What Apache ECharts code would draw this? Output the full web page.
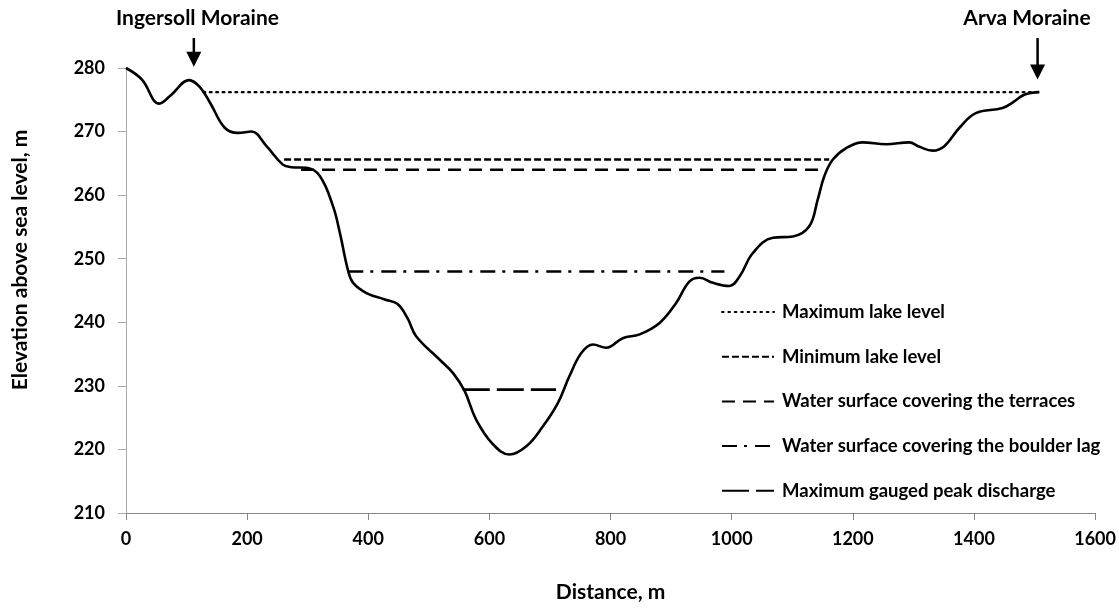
<!DOCTYPE html>
<html><head><meta charset="utf-8">
<script src="https://cdn.jsdelivr.net/npm/echarts@6/dist/echarts.min.js"></script>
<style>html,body{margin:0;padding:0;background:#fff}#c{width:1119px;height:608px}</style>
</head><body><div id="c"></div>
<script>
// Ground profile: distance (m) and elevation (m)
const profileX = [0,26,55,75,104,122,139,163,185,207,232,259,273,298,320,342,353,367,375,397,427,448,465,479,518,540,559,578,606,633,661,688,713,732,752,771,793,820,848,881,908,930,947,969,996,1013,1035,1068,1101,1128,1142,1153,1167,1189,1216,1255,1293,1310,1332,1351,1376,1403,1447,1466,1483,1508];
const profileY = [280,278.2,274.4,275.8,278.1,277,274.5,270.6,269.8,270.0,267.7,264.8,264.4,264.3,263.0,258.2,254.1,248.0,246.2,244.6,243.6,242.9,240.6,237.8,234.1,232.0,229.2,224.7,220.8,219.2,220.5,223.6,227.3,231.5,235.2,236.5,236.0,237.5,238.1,239.9,243.0,246.4,247.0,246.2,245.7,247.2,250.9,253.3,253.5,255.1,259.3,263.0,265.6,267.4,268.3,268.0,268.3,267.6,267.0,267.7,270.6,272.9,273.7,274.7,275.8,276.2];

// Water levels: name, start x, end x, elevation
const levelNames = ['Maximum lake level','Minimum lake level','Water surface covering the terraces','Water surface covering the boulder lag','Maximum gauged peak discharge'];
const levelStart = [128, 261, 289, 367, 556];
const levelEnd   = [1508, 1161, 1156, 988, 710];
const levelElev  = [276.2, 265.6, 264.0, 248.0, 229.4];
const levelDash  = [[1.6,4.8],[7,3],[13,8],[15,7,3,8],[27,7]];

// Annotations
const annoText = ['Ingersoll Moraine','Arva Moraine'];
const annoX = [112, 1505];
const annoTipY = [280.2, 278.2];

const xTicks = [0,200,400,600,800,1000,1200,1400,1600];
const yTicks = [210,220,230,240,250,260,270,280];
const xTitle = 'Distance, m';
const yTitle = 'Elevation above sea level, m';

const FONT = 'Lato';
const chart = echarts.init(document.getElementById('c'));

const series = [{
  type:'line', name:'profile', data: profileX.map((x,i)=>[x,profileY[i]]),
  smooth:0.4, symbol:'none', lineStyle:{color:'#000',width:2.6}, z:3, silent:true
}];
levelNames.forEach((n,i)=>{
  series.push({
    type:'line', name:n, data:[[levelStart[i],levelElev[i]],[levelEnd[i],levelElev[i]]],
    symbol:'none', lineStyle:{color:'#000', width: i===0?2.4:2.6, type:levelDash[i], cap: i===0?'round':'butt'},
    itemStyle:{color:'#000'}, z:2
  });
});

chart.setOption({
  animation:false,
  grid:{left:126,right:23,top:68,bottom:95,containLabel:false},
  xAxis:{type:'value',min:0,max:1600,interval:200,
    name:xTitle,nameLocation:'middle',nameGap:69,
    nameTextStyle:{fontFamily:FONT,fontWeight:'bold',fontSize:21,color:'#000'},
    axisLine:{lineStyle:{color:'#888',width:1}},
    axisTick:{show:true,length:7,lineStyle:{color:'#888'}},
    axisLabel:{fontFamily:FONT,fontWeight:'bold',fontSize:18,color:'#000',margin:17,formatter:v=>xTicks.includes(v)?String(v):''},
    splitLine:{show:false}},
  yAxis:{type:'value',min:210,max:280,interval:10,
    axisLine:{show:true,lineStyle:{color:'#aaa',width:1}},
    axisTick:{show:true,length:8,lineStyle:{color:'#aaa'}},
    axisLabel:{fontFamily:FONT,fontWeight:'bold',fontSize:18,color:'#000',margin:21,formatter:v=>yTicks.includes(v)?String(v):''},
    splitLine:{show:false}},
  legend:{data:levelNames,orient:'vertical',left:716,top:297,itemWidth:52,itemHeight:14,itemGap:24.7,
    itemStyle:{opacity:0},
    textStyle:{fontFamily:FONT,fontWeight:'bold',fontSize:18.5,lineHeight:20,color:'#000',padding:[0,0,0,3]},
    selectedMode:false},
  series
});

function drawAnno(){
  const g=[];
  annoText.forEach((t,i)=>{
    const tip = chart.convertToPixel({gridIndex:0},[annoX[i],annoTipY[i]]);
    const top = 38;
    g.push({type:'line',shape:{x1:tip[0],y1:top,x2:tip[0],y2:tip[1]-13},style:{stroke:'#000',lineWidth:2.5},z:10});
    g.push({type:'polygon',shape:{points:[[tip[0]-7.5,tip[1]-15],[tip[0]+7.5,tip[1]-15],[tip[0],tip[1]]]},style:{fill:'#000'},z:10});
  });
  g.push({type:'text',x:197.5,y:18,style:{text:annoText[0],font:'bold 21px '+FONT,fill:'#000',align:'center',verticalAlign:'middle'},z:10});
  g.push({type:'text',x:1027,y:18,style:{text:annoText[1],font:'bold 21px '+FONT,fill:'#000',align:'center',verticalAlign:'middle'},z:10});
  g.push({type:'text',x:20,y:260,rotation:Math.PI/2,style:{text:yTitle,font:'bold 21px '+FONT,fill:'#000',align:'center',verticalAlign:'middle'},z:10});
  chart.setOption({graphic:g});
}
drawAnno();
</script></body></html>
